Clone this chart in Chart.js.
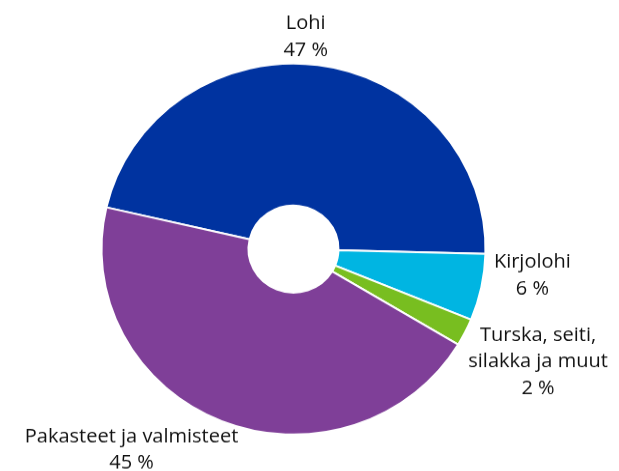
<!DOCTYPE html>
<html>
<head>
<meta charset="utf-8">
<script src="https://cdn.jsdelivr.net/npm/chart.js@4"></script>
<style>
  html, body { margin: 0; padding: 0; background: #fff; overflow: hidden; }
  #wrap { width: 619px; height: 488px; transform: scaleY(0.966); transform-origin: 0 0; }
</style>
</head>
<body>
<div id="wrap"><canvas id="fishChart" width="619" height="488"></canvas></div>
<script>
// Data
const categories = ['Lohi', 'Kirjolohi', 'Turska, seiti,\nsilakka ja muut', 'Pakasteet ja valmisteet'];
const shares = [46.8, 5.8, 2.4, 45.0];
const sliceColors = ['#0033a0', '#00b5e2', '#78be20', '#7f3f98'];

// Label nudges from the outer edge point of each slice (x, first baseline)
const labelNudge = [[-12, -37], [51, -20], [73, 9], [-90, 22]];

const outsideLabels = {
    id: 'outsideLabels',
    afterDatasetsDraw(chart) {
        const ctx = chart.ctx;
        const arcs = chart.getDatasetMeta(0).data;
        ctx.save();
        ctx.font = '20px "Open Sans", sans-serif';
        ctx.fillStyle = '#111111';
        ctx.textAlign = 'center';
        ctx.textBaseline = 'alphabetic';
        arcs.forEach((arc, i) => {
            const p = arc.getProps(['x', 'y', 'startAngle', 'endAngle', 'outerRadius'], true);
            const mid = (p.startAngle + p.endAngle) / 2;
            const ox = p.x + Math.cos(mid) * p.outerRadius;
            const oy = p.y + Math.sin(mid) * p.outerRadius;
            const lines = categories[i].split('\n').concat([Math.round(shares[i]) + ' %']);
            lines.forEach((line, k) => {
                ctx.fillText(line, ox + labelNudge[i][0], oy + labelNudge[i][1] + k * 27.4);
            });
        });
        ctx.restore();
    }
};

const ctx = document.getElementById('fishChart').getContext('2d');
const fishChart = new Chart(ctx, {
    type: 'doughnut',
    data: {
        labels: categories,
        datasets: [{
            data: shares,
            backgroundColor: sliceColors,
            borderColor: '#ffffff',
            borderWidth: 2
        }]
    },
    options: {
        responsive: false,
        animation: false,
        rotation: 283,
        cutout: 45,
        layout: {
            padding: { left: 100.5, right: 132.5, top: 64.8, bottom: 37.2 }
        },
        plugins: {
            legend: { display: false },
            tooltip: { enabled: false }
        }
    },
    plugins: [outsideLabels]
});
</script>
</body>
</html>
